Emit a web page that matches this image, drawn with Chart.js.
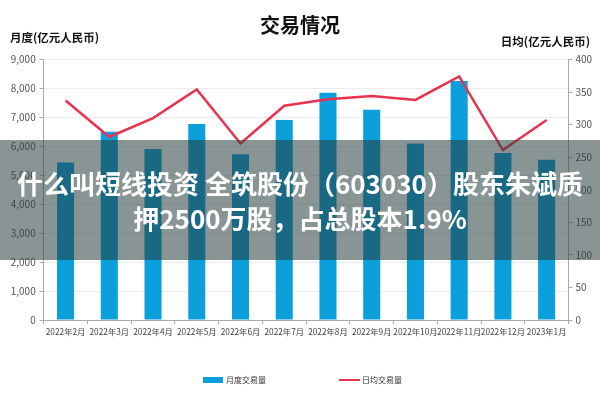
<!DOCTYPE html>
<html>
<head>
<meta charset="utf-8">
<script src="https://cdn.jsdelivr.net/npm/chart.js@4/dist/chart.umd.min.js"></script>
<style>
  html, body { margin: 0; padding: 0; background: #fff; }
  #wrap { position: relative; width: 600px; height: 400px; }
  #banner {
    position: absolute; left: 0; top: 140px; width: 600px; height: 120px;
    background: rgba(40, 60, 60, 0.55);
    display: flex; flex-direction: column; justify-content: center; align-items: center;
    color: #fff; font-family: "Noto Sans CJK SC", sans-serif; font-weight: bold;
    font-size: 26px; line-height: 35px; white-space: nowrap;
  }
</style>
</head>
<body>
<div id="wrap">
  <canvas id="tradeChart" width="600" height="400"></canvas>
  <div id="banner">
    <div>什么叫短线投资 全筑股份（603030）股东朱斌质</div>
    <div>押2500万股，占总股本1.9%</div>
  </div>
</div>
<script>
// dados do gráfico
const months = ['2022年2月', '2022年3月', '2022年4月', '2022年5月', '2022年6月', '2022年7月',
                '2022年8月', '2022年9月', '2022年10月', '2022年11月', '2022年12月', '2023年1月'];
const monthlyVolume = [5440, 6500, 5910, 6770, 5730, 6910, 7850, 7260, 6100, 8260, 5770, 5540];
const dailyVolume = [337, 281, 310, 354, 271, 329, 339, 344, 338, 374, 261, 307];
const leftTicks = [0, 1000, 2000, 3000, 4000, 5000, 6000, 7000, 8000, 9000];
const rightTicks = [0, 50, 100, 150, 200, 250, 300, 350, 400];

const barColor = '#0b9fdc';
const lineColor = '#e8334f';
const tickFont = { family: '"Liberation Sans Narrow", "Noto Sans CJK SC", sans-serif', size: 10 };

document.addEventListener('DOMContentLoaded', function() {
    // títulos e legenda desenhados à mão
    const decorPlugin = {
        id: 'decor',
        afterDraw(chart) {
            const c = chart.ctx;
            c.save();
            c.fillStyle = '#111';
            c.textBaseline = 'middle';
            c.font = 'bold 20px "Noto Sans CJK SC", sans-serif';
            c.textAlign = 'center';
            c.fillText('交易情况', 300, 25);
            c.font = 'bold 11.5px "Noto Sans CJK SC", sans-serif';
            c.textAlign = 'left';
            c.fillText('月度(亿元人民币)', 10, 38);
            c.textAlign = 'right';
            c.fillText('日均(亿元人民币)', 590, 42);

            // legenda
            c.font = '8px "Noto Sans CJK SC", sans-serif';
            c.textAlign = 'left';
            c.fillStyle = barColor;
            c.fillRect(203, 377, 20, 6);
            c.fillStyle = '#333';
            c.fillText('月度交易量', 226, 380);
            c.strokeStyle = lineColor;
            c.lineWidth = 2;
            c.beginPath();
            c.moveTo(339, 380);
            c.lineTo(360, 380);
            c.stroke();
            c.fillText('日均交易量', 362, 380);
            c.restore();
        }
    };

    const ctx = document.getElementById('tradeChart').getContext('2d');
    new Chart(ctx, {
        data: {
            labels: months,
            datasets: [{
                type: 'line',
                label: '日均交易量',
                data: dailyVolume,
                yAxisID: 'y2',
                borderColor: lineColor,
                borderWidth: 2.5,
                pointRadius: 0,
                tension: 0,
                order: 0
            }, {
                type: 'bar',
                label: '月度交易量',
                data: monthlyVolume,
                yAxisID: 'y',
                backgroundColor: barColor,
                categoryPercentage: 1,
                barPercentage: 0.39,
                order: 1
            }]
        },
        options: {
            responsive: false,
            animation: false,
            layout: { padding: { top: 59.5, left: 0, right: 0, bottom: 0 } },
            plugins: {
                legend: { display: false },
                tooltip: { enabled: false }
            },
            scales: {
                x: {
                    offset: true,
                    grid: { display: true, drawOnChartArea: false, drawTicks: true, tickLength: 4, color: '#aaa', offset: true },
                    border: { color: '#aaa' },
                    ticks: { color: '#444', font: { ...tickFont, size: 8.3 }, padding: 3, autoSkip: false, maxRotation: 0, minRotation: 0 },
                    afterFit(scale) { scale.height = 80; }
                },
                y: {
                    position: 'left',
                    min: 0,
                    max: 9000,
                    afterBuildTicks(scale) { scale.ticks = leftTicks.map(v => ({ value: v })); },
                    grid: { color: '#ececec', tickColor: '#aaa', tickLength: 4 },
                    border: { color: '#aaa' },
                    ticks: {
                        color: '#555', font: tickFont, padding: 4,
                        callback: v => v.toLocaleString('en-US')
                    },
                    afterFit(scale) { scale.width = 43.7; }
                },
                y2: {
                    position: 'right',
                    min: 0,
                    max: 400,
                    afterBuildTicks(scale) { scale.ticks = rightTicks.map(v => ({ value: v })); },
                    grid: { drawOnChartArea: false, color: '#aaa', tickLength: 4 },
                    border: { color: '#aaa' },
                    ticks: { color: '#555', font: tickFont, padding: 3 },
                    afterFit(scale) { scale.width = 31.5; }
                }
            }
        },
        plugins: [decorPlugin]
    });
});
</script>
</body>
</html>
